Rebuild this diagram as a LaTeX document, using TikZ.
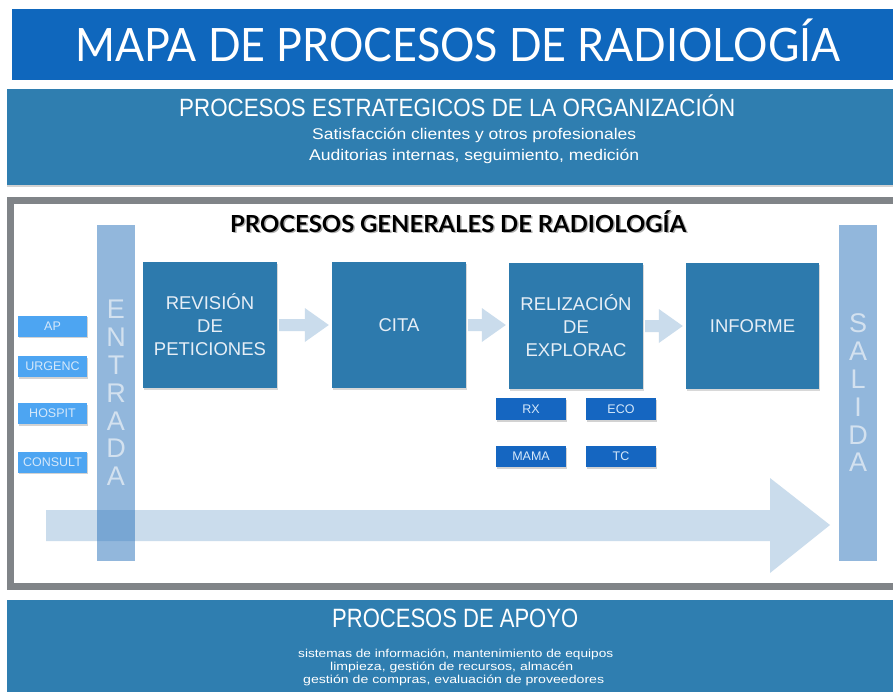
\documentclass[tikz,border=0pt]{standalone}
\usepackage{fontspec}
\setmainfont{Liberation Sans}
\newfontfamily\gillfont{Lato}
\usetikzlibrary{shadows,calc}
\definecolor{titleblue}{HTML}{0F67BD}
\definecolor{stratblue}{HTML}{2F7EB0}
\definecolor{boxblue}{HTML}{2D7AAD}
\definecolor{lightbox}{HTML}{4DA5F2}
\definecolor{darkbox}{HTML}{1566C1}
\definecolor{arrowfill}{HTML}{CADCEC}
\definecolor{barblue}{HTML}{2771BB}
\definecolor{framegray}{HTML}{808488}
\definecolor{boxtext}{HTML}{E6EEF6}
\definecolor{smalltext}{HTML}{D5E8FA}
\definecolor{bartext}{HTML}{D3E1EF}
\newcommand\fitw[3]{\resizebox{#1pt}{\height}{\fontsize{#2}{#2}\selectfont #3}}
\newcommand\blockarrow[2]{%
  \fill[arrowfill] let \p1=(#1.east), \p2=(#2.west) in
    (\x1+2pt,\y1-6pt) -- (\x2-27pt,\y1-6pt) -- (\x2-27pt,\y1-17pt) --
    (\x2-3pt,\y1) -- (\x2-27pt,\y1+17pt) -- (\x2-27pt,\y1+6pt) --
    (\x1+2pt,\y1+6pt) -- cycle;}
\begin{document}
\begin{tikzpicture}[x=1pt,y=-1pt,
  band/.style={fill=stratblue,drop shadow={shadow xshift=0pt,shadow yshift=-1.5pt,opacity=0.35}},
  bandtext/.style={text=white,inner sep=0pt,anchor=base west},
  bigbox/.style={rectangle,fill=boxblue,minimum width=134pt,minimum height=126pt,inner sep=0pt,
    text=boxtext,align=center,font=\fontsize{18.5}{23}\selectfont,
    drop shadow={shadow xshift=1pt,shadow yshift=-1.5pt,opacity=0.3}},
  srcbox/.style={rectangle,fill=lightbox,minimum width=69pt,minimum height=21pt,inner sep=0pt,
    text=smalltext,font=\fontsize{12.5}{12.5}\selectfont,
    drop shadow={shadow xshift=1pt,shadow yshift=-1.5pt,opacity=0.35}},
  modbox/.style={rectangle,fill=darkbox,minimum width=70pt,minimum height=22pt,inner sep=0pt,
    text=smalltext,font=\fontsize{12.5}{12.5}\selectfont,
    drop shadow={shadow xshift=1pt,shadow yshift=-1.5pt,opacity=0.35}},
  sidebar/.style={rectangle,fill=barblue,fill opacity=0.5,text opacity=1,minimum width=38pt,minimum height=336pt,
    inner sep=0pt,text=bartext,align=center,font=\fontsize{27}{27.8}\selectfont}
]
\useasboundingbox (0,0) rectangle (893,691);
\fill[white] (0,0) rectangle (893,691);

% title
\fill[titleblue] (12,9) rectangle (900,80);
\node[bandtext,text=white] (title) at (75,61) {\fitw{765}{46}{\gillfont MAPA DE PROCESOS DE RADIOLOGÍA}};

% strategic processes
\fill[band] (7,89) rectangle (900,185);
\node[bandtext] (strat) at (179,116) {\fitw{556}{25}{PROCESOS ESTRATEGICOS DE LA ORGANIZACIÓN}};
\node[bandtext] (strat1) at (312,139) {\fitw{324}{15.5}{Satisfacción clientes y otros profesionales}};
\node[bandtext] (strat2) at (309,160) {\fitw{330}{15.5}{Auditorias internas, seguimiento, medición}};

% frame
\draw[framegray,line width=7pt] (10.5,200.5) rectangle (910,586.5);

% heading
\node[inner sep=0pt,anchor=base west,text=black,opacity=0.3] at (231.5,233.5) {\fitw{456}{23.5}{\gillfont\bfseries PROCESOS GENERALES DE RADIOLOGÍA}};
\node[inner sep=0pt,anchor=base west,text=black] (gen) at (230,232) {\fitw{456}{23.5}{\gillfont\bfseries PROCESOS GENERALES DE RADIOLOGÍA}};

% big flow arrow
\fill[arrowfill] (46,510) -- (770,510) -- (770,478) -- (830,525) -- (770,573) -- (770,541) -- (46,541) -- cycle;

% side bars
\node[sidebar] (entrada) at (116,393) {E\\N\\T\\R\\A\\D\\A};
\node[sidebar] (salida) at (858,393) {S\\A\\L\\I\\D\\A};

% sources
\node[srcbox] (ap) at (52.5,326) {AP};
\node[srcbox] (urg) at (52.5,366.5) {URGENC};
\node[srcbox] (hos) at (52.5,413.5) {HOSPIT};
\node[srcbox] (con) at (52.5,462) {CONSULT};

% main process boxes
\node[bigbox] (rev) at (210,325) {REVISIÓN\\DE\\PETICIONES};
\node[bigbox] (cita) at (399,325) {CITA};
\node[bigbox] (rel) at (576,326) {RELIZACIÓN\\DE\\EXPLORAC};
\node[bigbox,minimum width=133pt] (inf) at (752.5,326) {INFORME};

\blockarrow{rev}{cita}
\blockarrow{cita}{rel}
\blockarrow{rel}{inf}

% modalities
\node[modbox] (rx) at (531,409) {RX};
\node[modbox] (eco) at (621,409) {ECO};
\node[modbox,minimum height=21pt] (mama) at (531,456.5) {MAMA};
\node[modbox,minimum height=21pt] (tc) at (621,456.5) {TC};

% support processes
\fill[band] (7,600) rectangle (900,700);
\node[bandtext] (apoyo) at (332,627) {\fitw{246}{26.5}{PROCESOS DE APOYO}};
\node[bandtext] (ap1) at (298,657) {\fitw{315}{11.5}{sistemas de información, mantenimiento de equipos}};
\node[bandtext] (ap2) at (330,670) {\fitw{243}{11.5}{limpieza, gestión de recursos, almacén}};
\node[bandtext] (ap3) at (303,683) {\fitw{301}{11.5}{gestión de compras, evaluación de proveedores}};
\end{tikzpicture}
\end{document}
